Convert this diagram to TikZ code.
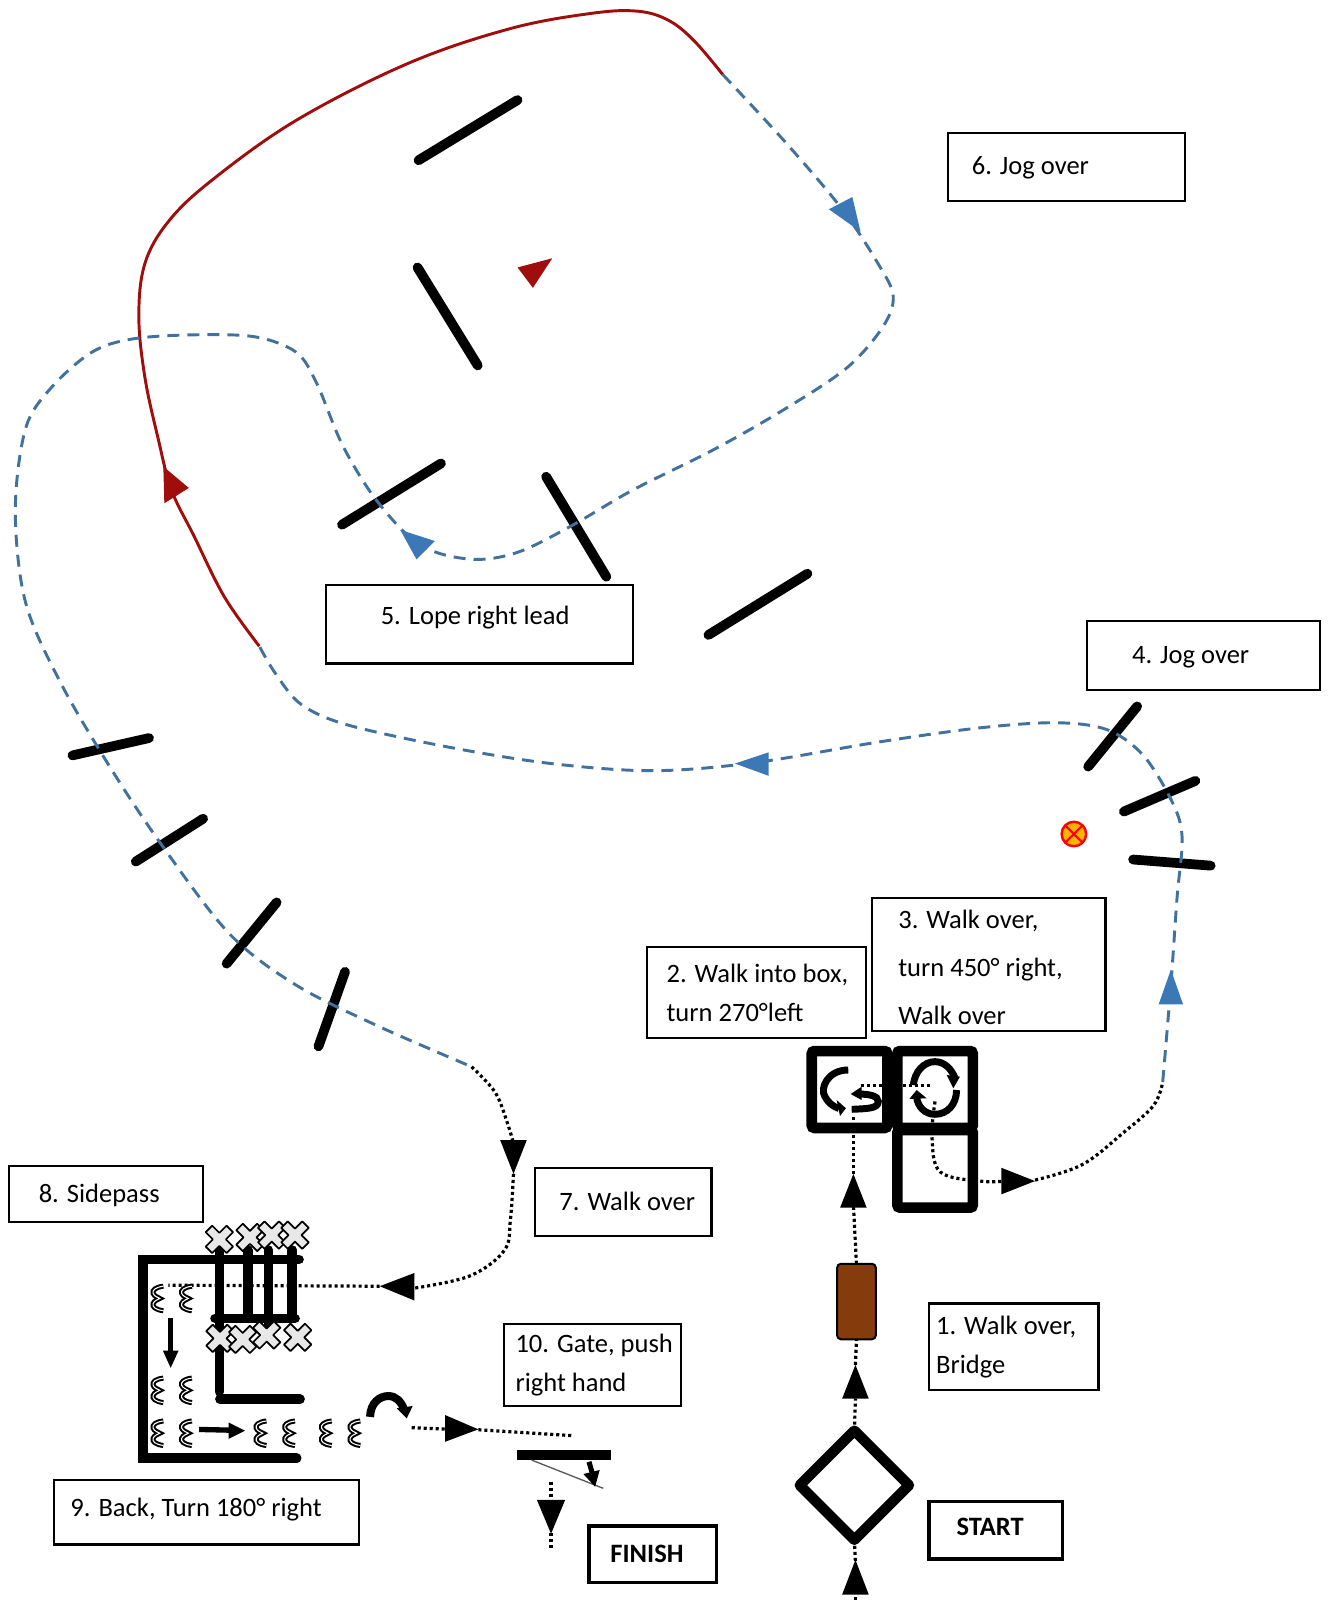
\documentclass[tikz,border=0pt]{standalone}
\usepackage{fontspec}
\setmainfont{Carlito}
\usetikzlibrary{shapes.geometric}
\definecolor{bluepath}{HTML}{41719C}
\definecolor{bluehead}{HTML}{3B78B5}
\definecolor{redpath}{HTML}{A00D0D}
\definecolor{brownbridge}{HTML}{843C0C}
\def\ux{0.7656pt}
\tikzset{
  tbox/.style={draw,line width=1.7pt,inner sep=0pt,outer sep=0pt,anchor=north west,fill=white},
  boldbox/.style={line width=2.6pt},
  pole/.style={line width=7.3pt,line cap=round,black},
  bluedash/.style={bluepath,line width=2.2pt,dash pattern=on 9pt off 6pt},
  redline/.style={redpath,line width=2.2pt},
  dots/.style={black,line width=2.4pt,dash pattern=on 2.3pt off 2.2pt},
  thick wall/.style={line width=7.3pt,line cap=round,black},
  cell/.style={draw,line width=7.9pt,rounded corners=2pt,inner sep=0pt,outer sep=0pt,fill=white},
  icon/.style={line width=5.2pt,black},
  bhead/.style={fill=black},
  ahead/.style={fill=bluehead},
  rhead/.style={fill=redpath},
  squig/.pic={\draw[black,line width=1.5pt,double=white,double distance=0.8pt]
     (5,-12) .. controls (-3,-11) and (-6,-8) .. (-5,-5) .. controls (-4,-2) and (0,-1) .. (1.5,0)
     .. controls (0,1) and (-4,2) .. (-5,5) .. controls (-6,8) and (-3,11) .. (5,12);},
  xmark/.pic={\filldraw[draw=black,fill=black!9,line width=1.3pt,line join=round,rotate=45]
     (-4.5,-14.5)--(4.5,-14.5)--(4.5,-4.5)--(14.5,-4.5)--(14.5,4.5)--(4.5,4.5)--(4.5,14.5)--(-4.5,14.5)--(-4.5,4.5)--(-14.5,4.5)--(-14.5,-4.5)--(-4.5,-4.5)--cycle;}
}
% opts, name, x1, y1, x2, y2, text x, first baseline y, text
\newcommand{\textbox}[9]{%
  \pgfmathsetlengthmacro\bW{(#5-#3)*\ux}%
  \pgfmathsetlengthmacro\bH{(#6-#4)*\ux}%
  \pgfmathsetlengthmacro\bL{(#7-#3)*\ux}%
  \pgfmathsetlengthmacro\bT{(#8-#4)*\ux-12pt}%
  \node[tbox,#1] (#2) at (#3,#4) {\parbox[t][\bH][t]{\bW}{\vspace*{\bT}\fontsize{19.9}{29}\selectfont\leftskip=\bL\relax\parindent=0pt\rightskip=0pt plus 1fil\relax #9\par}};%
}
\newcommand{\ls}{\rule{0pt}{12pt}}
\begin{document}
\begin{tikzpicture}[x=0.7656pt,y=-0.7656pt]
\useasboundingbox (0,0) rectangle (1300,1567.4);
% text boxes
\textbox{}{six}{929}{130}{1161}{197}{952}{169}{\ls 6. Jog over}
\textbox{}{five}{319}{573}{620}{650}{373}{609}{\ls 5. Lope right lead}
\textbox{}{four}{1065}{608}{1293}{676}{1109}{649}{\ls 4. Jog over}
\textbox{}{three}{854}{880}{1083}{1010}{880}{907}{\setlength{\baselineskip}{36.2pt}\ls 3. Walk over,\\turn 450° right,\\Walk over}
\textbox{}{two}{634}{928}{848}{1017}{653}{960}{\ls 2. Walk into box,\\turn 270°left}
\textbox{}{one}{910}{1277}{1076}{1362}{917}{1305}{\ls 1. Walk over,\\Bridge}
\textbox{boldbox}{startb}{910}{1471}{1041}{1527}{937}{1503}{\ls\textbf{START}}
\textbox{boldbox}{finishb}{577}{1495}{702}{1550}{598}{1529}{\ls\textbf{FINISH}}
\textbox{}{seven}{524}{1144}{697}{1211}{548}{1183}{\ls 7. Walk over}
\textbox{}{eight}{9}{1142}{199}{1197}{38}{1176}{\ls 8. Sidepass}
\textbox{}{nine}{53}{1450}{352}{1513}{69}{1483}{\ls 9. Back, Turn 180° right}
\textbox{}{ten}{494}{1297}{667}{1377}{505}{1323}{\ls 10. Gate, push\\right hand}
% poles
\draw[pole] (410,157)--(507,98);
\draw[pole] (409,262)--(468,358);
\draw[pole] (335,514)--(432,454);
\draw[pole] (535,467)--(594,565);
\draw[pole] (694,622)--(791,562);
\draw[pole] (1066,751)--(1114,692);
\draw[pole] (1101,795)--(1171,765);
\draw[pole] (1110,842)--(1186,848);
\draw[pole] (71,740)--(146,723);
\draw[pole] (133,844)--(199,802);
\draw[pole] (222,944)--(271,884);
\draw[pole] (312,1025)--(338,952);
% junctions
\coordinate (redstart) at (254,633);
\coordinate (redend) at (708,73);
\coordinate (bluetodots) at (462,1045);
\coordinate (dotstoblue) at (1139,1060);
% red path
\draw[redline] plot[smooth,tension=0.6] coordinates {(redstart) (220,585) (190,525) (168,480) (155,430) (142,370) (136,310) (142,258) (165,217) (207,177) (290,118) (400,62) (500,28) (580,13) (625,11) (655,20) (680,40) (redend)};
\fill[rhead] (160,457)--(185,478)--(161,493)--cycle;
\fill[rhead] (507,262)--(541,253)--(522,282)--cycle;
% blue dashed paths
\draw[bluedash] plot[smooth,tension=0.55] coordinates {(redend) (770,140) (825,205) (860,258) (875,290) (865,320) (830,360) (770,400) (700,440) (620,480) (560,515) (510,540) (470,548) (430,542) (400,525) (365,485) (335,435) (310,375) (290,345) (250,330) (190,328) (130,332) (90,345) (50,380) (25,420) (15,500) (25,590) (60,670) (110,755) (160,830) (225,915) (290,965) (370,1005) (bluetodots)};
\draw[bluedash] plot[smooth,tension=0.55] coordinates {(dotstoblue) (1147,965) (1153,880) (1158,820) (1148,785) (1120,740) (1085,715) (1035,708) (960,713) (860,727) (740,747) (640,755) (540,748) (440,732) (340,710) (295,690) (270,660) (redstart)};
\fill[ahead] (843,227)--(812,205)--(835,193)--cycle;
\fill[ahead] (392,519)--(426,530)--(408,548)--cycle;
\fill[ahead] (720,748)--(753,737)--(753,760)--cycle;
\fill[ahead] (1147,950)--(1135,984)--(1159,984)--cycle;
% target cone
\node[circle,draw=red,fill=orange!60!yellow,line width=1.8pt,minimum size=24*\ux,inner sep=0pt,outer sep=0pt] (cone) at (1052,817) {};
\draw[red,line width=1.6pt] (cone.north west)--(cone.south east) (cone.north east)--(cone.south west);
% box of cells
\node[cell,minimum width=74*\ux,minimum height=75.4*\ux] (cellA) at (832.2,1067.3) {};
\node[cell,minimum width=74*\ux,minimum height=75.4*\ux] (cellB) at (916,1067.3) {};
\node[cell,minimum width=74*\ux,minimum height=76*\ux] (cellC) at (916,1145) {};
% icons in cells
\draw[icon] (831,1048.2) .. controls (811,1048) and (803,1066) .. (808,1074) .. controls (811,1080) and (816,1084) .. (822,1086);
\fill[bhead] (828.7,1085.7)--(819.6,1077.6)--(822.9,1093.2)--cycle;
\draw[icon] (834.3,1086.7) .. controls (850,1086) and (860.4,1086) .. (860.4,1079) .. controls (860.4,1073) and (850,1072) .. (842.5,1071.7);
\fill[bhead] (833.3,1071.7)--(844.1,1064.5)--(844.1,1077.6)--cycle;
\draw[icon] (894.7,1062.9) .. controls (896,1050) and (905,1040) .. (915.9,1040) .. controls (925,1040) and (932,1047) .. (935.5,1056);
\fill[bhead] (933.9,1066.1)--(927.4,1053.1)--(940.4,1054.7)--cycle;
\draw[icon] (937.1,1067.8) .. controls (937,1082) and (928,1091.6) .. (915.9,1091.6) .. controls (906,1091.6) and (899,1084) .. (898,1075);
\fill[bhead] (898,1067.8)--(890.8,1076.6)--(907.8,1075.9)--cycle;
% dotted route: start to boxes
\draw[dots] (838,1567)--(838,1560);
\fill[bhead] (838,1528)--(825,1562)--(851,1562)--cycle;
\node[diamond,draw,line width=7.8pt,line join=round,outer sep=0pt,minimum width=107*\ux,minimum height=107*\ux,inner sep=0pt] (dia) at (837,1455) {};
\draw[dots] (dia.south)--(838,1530);
\draw[dots] (dia.north)--(838,1370);
\fill[bhead] (838,1337)--(825,1370)--(851,1370)--cycle;
\node[draw,fill=brownbridge,line width=1.5pt,rounded corners=3pt,outer sep=0pt,minimum width=38*\ux,minimum height=74*\ux,inner sep=0pt] (bridge) at (839,1275) {};
\draw[dots] (838,1337)--(bridge.south);
\draw[dots] (bridge.north)--(836,1180);
\fill[bhead] (836,1150)--(823,1183)--(849,1183)--cycle;
\coordinate (turnend) at (911,1063);
\draw[dots] (836,1150)--(836,1092);
\draw[dots] (843,1063)--(turnend);
\draw[dots] plot[smooth,tension=0.6] coordinates {(916,1079) (913,1114) (921,1148) (960,1157) (985,1157)};
\fill[bhead] (1014,1157)--(981,1144)--(981,1170)--cycle;
\draw[dots] plot[smooth,tension=0.6] coordinates {(1014,1156) (1060,1141) (1100,1110) (1130,1083) (dotstoblue)};
% dotted route 7 to 8
\draw[dots] plot[smooth,tension=0.6] coordinates {(bluetodots) (485,1070) (497,1100) (503,1120)};
\fill[bhead] (503,1150)--(490,1117)--(516,1117)--cycle;
\draw[dots] plot[smooth,tension=0.6] coordinates {(503,1150) (500,1195) (494,1225) (460,1250) (405,1262)};
\fill[bhead] (372,1260)--(406,1247)--(406,1274)--cycle;
% sidepass structure
\draw[thick wall] (292.9,1233.7)--(140.4,1233.7)--(140.4,1428.6)--(290.6,1428.6);
\draw[thick wall] (214.9,1224.6)--(214.9,1363.3);
\draw[thick wall] (242.6,1224.6)--(242.6,1290);
\draw[thick wall] (262.9,1224.6)--(262.9,1299.7);
\draw[thick wall] (286.4,1224.6)--(286.4,1291.5);
\draw[thick wall] (210.7,1291.5)--(289,1291.5);
\draw[thick wall] (215.5,1370.8)--(293.9,1370.8);
\pic at (214.9,1214.1) {xmark};
\pic at (244.9,1212.2) {xmark};
\pic at (266.2,1209.9) {xmark};
\pic at (289,1209.9) {xmark};
\pic at (215.5,1311.1) {xmark};
\pic at (261.3,1307.8) {xmark};
\pic at (237.7,1312.1) {xmark};
\pic at (291.6,1310.1) {xmark};
\draw[dots] (372,1260)--(165,1259);
\foreach \px/\py in {155/1272,183/1272,155/1362,183/1362,155/1404,183/1404,256/1404,284/1404,320/1404,348/1404}
  \pic at (\px,\py) {squig};
\draw[line width=4pt] (167.2,1291)--(167.2,1325);
\fill[bhead] (167.2,1340)--(159.5,1323)--(175,1323)--cycle;
\draw[line width=4pt] (195,1400.3)--(225,1401);
\fill[bhead] (240,1401.5)--(224,1393.5)--(224,1409.5)--cycle;
% turn and gate
\draw[line width=6pt] (362.5,1388) .. controls (363,1374) and (372,1367.6) .. (380.4,1367.6) .. controls (388,1367.6) and (393,1373) .. (396,1381);
\fill[bhead] (398.4,1389.5)--(388.6,1379.6)--(404.3,1377.3)--cycle;
\draw[dots] (403.3,1398.6)--(436,1400);
\fill[bhead] (468.6,1400.2)--(436,1386.2)--(436,1412.4)--cycle;
\draw[dots] (468.6,1400.6)--(561,1406.4);
\draw[line width=7pt] (506,1425.4)--(599,1425.4);
\draw[gray!70!black,line width=1pt] (520.8,1430.3)--(591,1458);
\draw[line width=3.8pt] (577,1432)--(581,1446);
\fill[bhead] (583,1456.4)--(571.5,1444)--(587.5,1440)--cycle;
\draw[dots] (539.8,1451.5)--(539.8,1469.4);
\fill[bhead] (539.8,1502.5)--(526,1469.4)--(553.6,1469.4)--cycle;
\draw[dots] (539.8,1502)--(539.8,1518);
\end{tikzpicture}
\end{document}
